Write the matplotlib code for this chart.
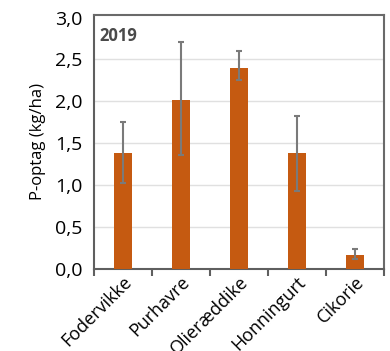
import matplotlib
matplotlib.use("Agg")
import matplotlib.pyplot as plt
import matplotlib.transforms as mtransforms
import numpy as np

# P-optag per efterafgrøde, 2019
crops = ["Fodervikke", "Purhavre", "Olieræddike", "Honningurt", "Cikorie"]
p_uptake = [1.38, 2.02, 2.40, 1.38, 0.17]
err_low = [1.02, 1.36, 2.25, 0.93, 0.12]
err_high = [1.75, 2.71, 2.60, 1.83, 0.24]
yticks = [0.0, 0.5, 1.0, 1.5, 2.0, 2.5, 3.0]

plt.rcParams['font.family'] = ['Open Sans', 'DejaVu Sans']

BAR = "#C55A11"
ERR = "#7a7a7a"
FRAME = "#5f5f5f"

fig = plt.figure(figsize=(3.9, 3.51), dpi=100)
ax = fig.add_axes([0.241, 0.234, 0.744, 0.723])

x = np.arange(len(crops))
vals = np.array(p_uptake)
yerr = np.array([vals - np.array(err_low), np.array(err_high) - vals])

ax.bar(x, vals, width=0.31, color=BAR, zorder=3)
ax.errorbar(x, vals, yerr=yerr, fmt="none", ecolor=ERR, elinewidth=1.5,
            capsize=2.5, capthick=1.5, zorder=4)

ax.set_xlim(-0.5, len(crops) - 0.5)
ax.set_ylim(0, 3.03)
ax.set_yticks(yticks)
ax.set_yticklabels([f"{t:.1f}".replace(".", ",") for t in yticks], fontsize=14)

# gridlines between 0 and the top frame
for t in yticks[1:-1]:
    ax.axhline(t, color="#e0e0e0", lw=1.0, zorder=1)

# category boundaries as ticks on the x axis
ax.set_xticks(np.arange(-0.5, len(crops) + 0.5, 1.0), minor=False)
ax.set_xticklabels([])
ax.set_xticks(x, minor=True)
ax.set_xticklabels(crops, minor=True, rotation=45, ha="right", va="center",
                   rotation_mode="anchor", fontsize=13)
ax.tick_params(axis="x", which="major", length=5, width=1.5, color=FRAME)
ax.tick_params(axis="x", which="minor", length=0, pad=7.5)
ax.tick_params(axis="y", length=0, pad=8.5)

shift = mtransforms.ScaledTranslation(6 / 100, 0, fig.dpi_scale_trans)
for lbl in ax.get_xticklabels(minor=True):
    lbl.set_transform(lbl.get_transform() + shift)

for s in ax.spines.values():
    s.set_color(FRAME)
    s.set_linewidth(1.5)
ax.spines["top"].set_color("#6a6a6a")
ax.spines["right"].set_color("#6a6a6a")

ax.set_ylabel("P-optag (kg/ha)", fontsize=12, labelpad=6)
ax.text(0.02, 0.955, "2019", transform=ax.transAxes, fontsize=12,
        fontweight="bold", color="#4a4a4a", ha="left", va="top")

fig.savefig("out.png", dpi=100)
